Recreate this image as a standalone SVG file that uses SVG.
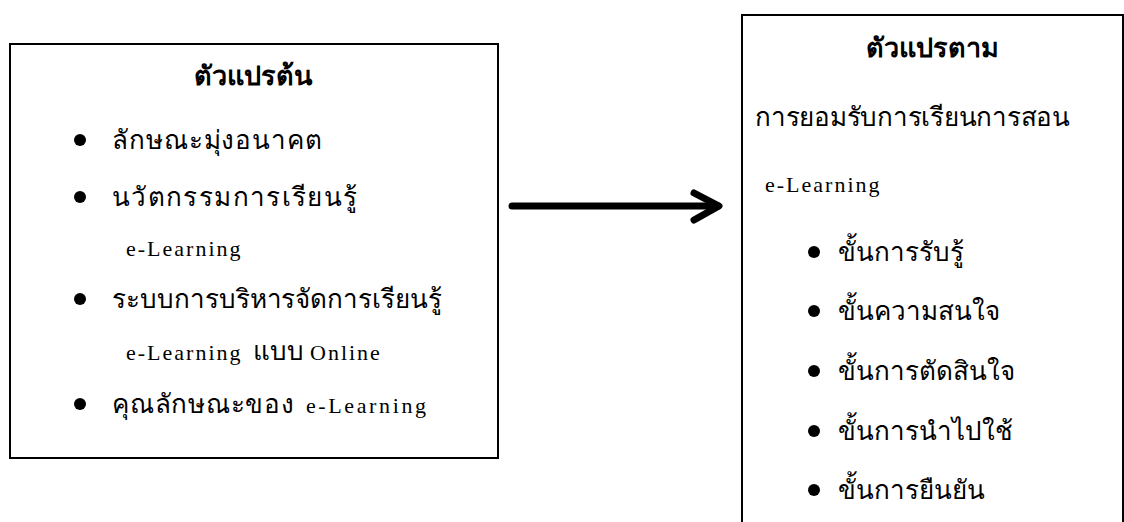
<svg xmlns="http://www.w3.org/2000/svg" width="1124" height="522" viewBox="0 0 1124 522">
<style>
.box{fill:#fff;stroke:#000;stroke-width:2}
.th{font-family:"Liberation Serif","DejaVu Sans",serif;font-size:26px;fill:#000}
.thb{font-family:"Liberation Serif","DejaVu Sans",serif;font-size:27px;font-weight:bold;fill:#000}
.en{font-family:"Liberation Serif",serif;font-size:22px;letter-spacing:2px;fill:#000}
.dot{fill:#000}
</style>
<rect width="1124" height="522" fill="#fff"/>
<g id="independent">
<rect class="box" x="10" y="44" width="488" height="414"/>
<text class="thb" x="253" y="85" text-anchor="middle">ตัวแปรต้น</text>
<circle class="dot" cx="80" cy="140" r="6"/>
<text class="th" x="112" y="149" textLength="210" lengthAdjust="spacing">ลักษณะมุ่งอนาคต</text>
<circle class="dot" cx="80" cy="197" r="6"/>
<text class="th" x="112" y="206" textLength="245" lengthAdjust="spacing">นวัตกรรมการเรียนรู้</text>
<text class="en" x="126" y="256">e-Learning</text>
<circle class="dot" cx="80" cy="299" r="6"/>
<text class="th" x="112" y="308" textLength="330" lengthAdjust="spacing">ระบบการบริหารจัดการเรียนรู้</text>
<text class="en" x="126" y="360">e-Learning</text>
<text class="th" x="253" y="360" font-size="24">แบบ</text>
<text class="en" x="310" y="360">Online</text>
<circle class="dot" cx="80" cy="404" r="6"/>
<text class="th" x="112" y="413" textLength="182" lengthAdjust="spacing">คุณลักษณะของ</text>
<text class="en" x="306" y="413" textLength="122" lengthAdjust="spacing">e-Learning</text>
</g>
<g id="dependent">
<rect class="box" x="742" y="15" width="381" height="520"/>
<text class="thb" x="932" y="57" text-anchor="middle">ตัวแปรตาม</text>
<text class="th" x="755" y="126" textLength="315" lengthAdjust="spacing">การยอมรับการเรียนการสอน</text>
<text class="en" x="765" y="192">e-Learning</text>
<circle class="dot" cx="814" cy="252" r="6"/>
<text class="th" x="838" y="261">ขั้นการรับรู้</text>
<circle class="dot" cx="814" cy="311" r="6"/>
<text class="th" x="838" y="320">ขั้นความสนใจ</text>
<circle class="dot" cx="814" cy="371" r="6"/>
<text class="th" x="838" y="380">ขั้นการตัดสินใจ</text>
<circle class="dot" cx="814" cy="431" r="6"/>
<text class="th" x="838" y="440">ขั้นการนำไปใช้</text>
<circle class="dot" cx="814" cy="490" r="6"/>
<text class="th" x="838" y="499">ขั้นการยืนยัน</text>
</g>
<g id="connectors" fill="none" stroke="#000" stroke-width="7" stroke-linecap="round" stroke-linejoin="round">
<line x1="512" y1="206" x2="718" y2="206"/>
<polyline points="694,193 719,206 694,220"/>
</g>
</svg>
